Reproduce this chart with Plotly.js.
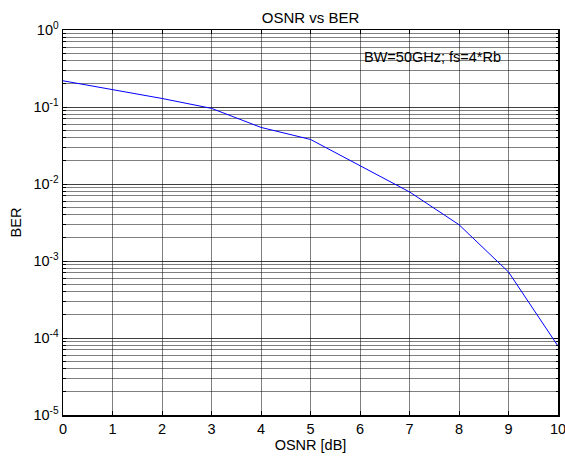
<!DOCTYPE html>
<html>
<head>
<meta charset="utf-8">
<script src="https://cdn.plot.ly/plotly-3.0.1.min.js"></script>
<style>
  html, body { margin: 0; padding: 0; background: #fff; }
  #chart { width: 565px; height: 460px; }
</style>
</head>
<body>
<div id="chart"></div>
<script>
// OSNR sweep (dB) and measured bit error rate
const osnrDb = [0, 1, 2, 3, 4, 5, 6, 7, 8, 9, 10];
const ber = [0.219, 0.169, 0.129, 0.096, 0.0543, 0.0379, 0.0174, 0.00789, 0.00296, 0.00072, 0.0000785];

// Axis tick labels
const xTicks = [0, 1, 2, 3, 4, 5, 6, 7, 8, 9, 10];
const yTickVals = [1e-5, 1e-4, 1e-3, 1e-2, 1e-1, 1];
const yTickText = ['10<sup>-5</sup>', '10<sup>-4</sup>', '10<sup>-3</sup>', '10<sup>-2</sup>', '10<sup>-1</sup>', '10<sup>0</sup>'];

const FONT = 'Arial, "Liberation Sans", sans-serif';
const GRID = 'rgba(0,0,0,0.5)';

const trace = {
  x: osnrDb,
  y: ber,
  type: 'scatter',
  mode: 'lines',
  line: { color: '#0000ff', width: 1 },
  showlegend: false,
  hoverinfo: 'x+y'
};

const layout = {
  width: 565,
  height: 460,
  margin: { l: 62.7, r: 7, t: 30, b: 45.3, pad: 0 },
  paper_bgcolor: '#ffffff',
  plot_bgcolor: '#ffffff',
  font: { family: FONT, size: 14.5, color: '#000' },
  title: {
    text: 'OSNR vs BER',
    font: { family: FONT, size: 15, color: '#000' },
    x: 0.5, xanchor: 'center', xref: 'paper',
    y: 1, yref: 'paper', yanchor: 'bottom', pad: { b: 7 }
  },
  xaxis: {
    range: [0, 10],
    tickvals: xTicks,
    ticktext: xTicks.map(String),
    ticklabeloverflow: 'allow',
    ticks: 'inside', ticklen: 4, tickcolor: '#000',
    showline: true, linecolor: '#000', linewidth: 1.5, mirror: 'allticks',
    showgrid: true, gridcolor: GRID, gridwidth: 1,
    zeroline: false,
    tickfont: { family: FONT, size: 14.5, color: '#000' },
    title: { text: 'OSNR [dB]', font: { family: FONT, size: 14.5, color: '#000' }, standoff: 4 }
  },
  yaxis: {
    type: 'log',
    range: [-5, 0],
    tickvals: yTickVals,
    ticktext: yTickText,
    ticks: 'inside', ticklen: 4, tickcolor: '#000',
    showline: true, linecolor: '#000', linewidth: 1.5, mirror: 'allticks',
    showgrid: true, gridcolor: GRID, gridwidth: 1,
    zeroline: false,
    tickfont: { family: FONT, size: 14.5, color: '#000' },
    minor: {
      dtick: 'D1',
      ticks: 'inside', ticklen: 2.5, tickcolor: '#000',
      showgrid: true, gridcolor: GRID, gridwidth: 1
    },
    title: { text: 'BER', font: { family: FONT, size: 14.5, color: '#000' }, standoff: 8 }
  },
  annotations: [{
    text: 'BW=50GHz; fs=4*Rb',
    xref: 'paper', yref: 'paper',
    x: 0.605, y: 0.93,
    xanchor: 'left', yanchor: 'middle',
    showarrow: false,
    font: { family: FONT, size: 14.5, color: '#000' }
  }]
};

Plotly.newPlot('chart', [trace], layout, { staticPlot: true, displayModeBar: false });
</script>
</body>
</html>
